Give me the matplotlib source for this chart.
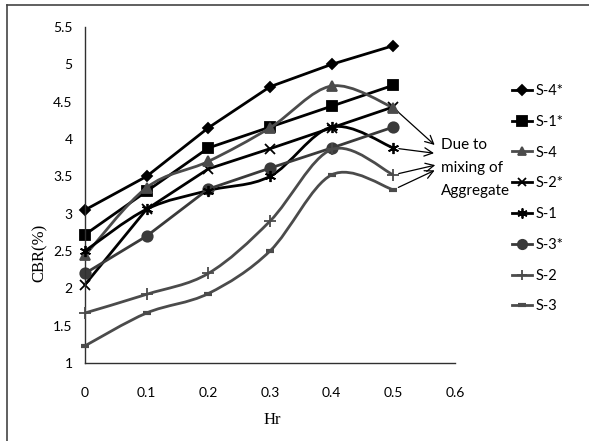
import numpy as np
import matplotlib
matplotlib.use('Agg')
import matplotlib.pyplot as plt
from matplotlib.path import Path
from matplotlib.patches import PathPatch
from matplotlib.lines import Line2D
from matplotlib.ticker import FuncFormatter

hr = [0, 0.1, 0.2, 0.3, 0.4, 0.5]

s4_star = [3.05, 3.5, 4.15, 4.7, 5.0, 5.25]
s1_star = [2.72, 3.3, 3.88, 4.16, 4.44, 4.72]
s4 = [2.44, 3.35, 3.7, 4.15, 4.71, 4.42]
s2_star = [2.05, 3.06, 3.6, 3.87, 4.15, 4.43]
s1 = [2.5, 3.06, 3.31, 3.5, 4.16, 3.88]
s3_star = [2.2, 2.7, 3.33, 3.61, 3.88, 4.16]
s2 = [1.67, 1.92, 2.2, 2.9, 3.86, 3.52]
s3 = [1.23, 1.67, 1.93, 2.5, 3.52, 3.32]

names = ['S-4*', 'S-1*', 'S-4', 'S-2*', 'S-1', 'S-3*', 'S-2', 'S-3']
values = [s4_star, s1_star, s4, s2_star, s1, s3_star, s2, s3]

BLACK = '#000000'
GRAY = '#4b4b4b'
# (colour, marker, markersize, smoothed)
styles = [
    (BLACK, 'D', 5.5, False),
    (BLACK, 's', 7.5, False),
    (GRAY, '^', 7, True),
    (BLACK, 'x', 7, False),
    (BLACK, (6, 2, 0), 8, True),
    ('#3a3a3a', 'o', 7.5, False),
    (GRAY, '+', 8, True),
    (GRAY, '_', 6, True),
]


def smooth_path(xs, ys):
    # excel-like smoothed line: bezier through every point
    pts = np.column_stack([xs, ys])
    n = len(pts)
    verts = [pts[0]]
    codes = [Path.MOVETO]
    for i in range(n - 1):
        p0 = pts[max(i - 1, 0)]
        p1 = pts[i]
        p2 = pts[i + 1]
        p3 = pts[min(i + 2, n - 1)]
        verts += [p1 + (p2 - p0) / 6, p2 - (p3 - p1) / 6, p2]
        codes += [Path.CURVE4] * 3
    return Path(verts, codes)


fig = plt.figure(figsize=(5.89, 4.41), dpi=100)
ax = fig.add_axes([85 / 589, 1 - 363 / 441, 370 / 589, 336 / 441])

handles = []
for i, (name, vals) in enumerate(zip(names, values)):
    col, mk, ms, smooth = styles[i]
    if smooth:
        ax.add_patch(PathPatch(smooth_path(hr, vals), fill=False, edgecolor=col,
                               lw=2.0, zorder=2 + i * 0.1, clip_on=False))
        ax.plot(hr, vals, linestyle='none', marker=mk, ms=ms, color=col,
                mew=1.3 if mk != '_' else 3, zorder=3 + i * 0.1, clip_on=False)
    else:
        ax.plot(hr, vals, color=col, lw=2.0, marker=mk, ms=ms,
                mew=1.3, zorder=2 + i * 0.1, clip_on=False)
    handles.append(Line2D([], [], color=col, lw=2.0, marker=mk, ms=ms * 0.9,
                          mew=1.3 if mk != '_' else 3))

ax.set_xlim(0, 0.6)
ax.set_ylim(1, 5.5)
ax.set_xticks([0, 0.1, 0.2, 0.3, 0.4, 0.5, 0.6])
ax.set_yticks([1, 1.5, 2, 2.5, 3, 3.5, 4, 4.5, 5, 5.5])
ax.yaxis.set_major_formatter(FuncFormatter(lambda v, p: '%g' % v))
ax.xaxis.set_major_formatter(FuncFormatter(lambda v, p: '%g' % v))
ax.tick_params(axis='x', length=0, pad=17, labelsize=10)
ax.tick_params(axis='y', length=0, pad=9, labelsize=10)
for lab in ax.get_xticklabels() + ax.get_yticklabels():
    lab.set_fontfamily('Lato')
for sp in ['top', 'right']:
    ax.spines[sp].set_visible(False)
for sp in ['left', 'bottom']:
    ax.spines[sp].set_color('#303030')
    ax.spines[sp].set_linewidth(1.0)

fig.text(40 / 589, 1 - 253 / 441, 'CBR(%)', rotation=90, ha='center', va='center',
         family='Liberation Serif', size=12)
fig.text(272 / 589, 1 - 420 / 441, 'Hr', ha='center', va='center',
         family='Liberation Serif', size=12)

# arrows to the note
arrow_from = [(0.5, s4[5]), (0.5, s1[5]), (0.5, s2[5]), (0.5, s3[5])]
arrow_to = [(0.567, 3.92), (0.566, 3.81), (0.568, 3.65), (0.567, 3.58)]
for a, b in zip(arrow_from, arrow_to):
    ax.annotate('', xy=b, xytext=a, annotation_clip=False,
                arrowprops=dict(arrowstyle='->', color='black', lw=0.9,
                                shrinkA=4, shrinkB=0, mutation_scale=15))

for txt, yy in [('Due to', 145), ('mixing of', 168), ('Aggregate', 191)]:
    fig.text(441 / 589, 1 - yy / 441, txt, ha='left', va='center',
             family='Lato', size=11)

fig.legend(handles, names, loc='upper left',
           bbox_to_anchor=(512 / 589, 1 - 84 / 441),
           bbox_transform=fig.transFigure, frameon=False,
           prop={'family': 'Lato', 'size': 10.5}, numpoints=1,
           handlelength=1.4, handletextpad=0.2, labelspacing=1.15,
           borderpad=0, borderaxespad=0)

# outer border of the chart area (only top and left visible)
fig.add_artist(Line2D([7 / 589, 7 / 589], [0, 1 - 5 / 441], color='#444444',
                      lw=1.2, transform=fig.transFigure))
fig.add_artist(Line2D([7 / 589, 1], [1 - 5 / 441, 1 - 5 / 441], color='#444444',
                      lw=1.2, transform=fig.transFigure))

fig.savefig('out.png', dpi=100)
